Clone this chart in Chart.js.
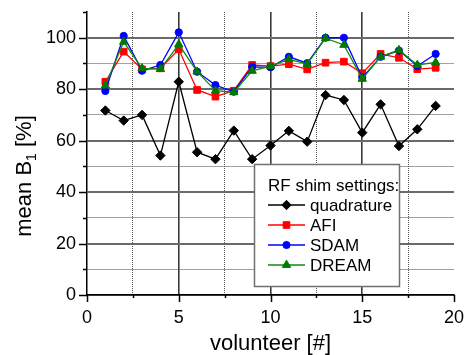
<!DOCTYPE html>
<html>
<head>
<meta charset="utf-8">
<script src="https://cdn.jsdelivr.net/npm/chart.js@4.4.0/dist/chart.umd.min.js"></script>
<style>
  html, body { margin: 0; padding: 0; background: #fff; overflow: hidden; }
  #wrap { position: relative; width: 465px; height: 357px; }
</style>
</head>
<body>
<div id="wrap"><canvas id="chart"></canvas></div>
<script>
// --- data ---
const volunteers = [1, 2, 3, 4, 5, 6, 7, 8, 9, 10, 11, 12, 13, 14, 15, 16, 17, 18, 19];
const quadrature = [71.7, 67.8, 70.0, 54.2, 82.9, 55.5, 52.8, 63.9, 52.8, 58.1, 63.8, 59.6, 77.7, 75.8, 63.1, 74.1, 57.9, 64.4, 73.5];
const afi        = [82.9, 94.6, 87.7, 88.1, 95.5, 79.7, 77.1, 79.4, 89.4, 89.0, 89.7, 87.7, 90.3, 90.7, 86.2, 93.7, 92.2, 87.8, 88.3];
const sdam       = [79.3, 100.7, 87.2, 89.4, 102.1, 86.8, 81.6, 79.0, 88.7, 88.5, 92.6, 90.1, 100.0, 100.0, 84.5, 92.6, 95.0, 89.0, 93.7];
const dream      = [81.4, 98.4, 88.1, 87.8, 97.4, 86.8, 79.4, 78.8, 87.1, 89.0, 91.6, 89.8, 99.8, 97.2, 84.0, 92.6, 95.2, 89.4, 90.4];
const seriesNames = ["quadrature", "AFI", "SDAM", "DREAM"];
const legendTitle = "RF shim settings:";
const xTitle = "volunteer [#]";
const yTitle = ["mean B", "1", " [%]"];

const FONT = '"Liberation Sans", Arial, Helvetica, sans-serif';

function toPoints(vals) {
    return volunteers.map((v, i) => ({ x: v, y: vals[i] }));
}

function makeSeries(label, vals, color, markColor, style, radius, order) {
    return {
        label: label,
        data: toPoints(vals),
        borderColor: color,
        borderWidth: 1.3,
        pointStyle: style,
        pointRadius: radius,
        pointBackgroundColor: markColor,
        pointBorderColor: markColor,
        pointBorderWidth: 1,
        tension: 0,
        fill: false,
        order: order
    };
}

// --- outward tick marks (long for labelled ticks, short for the rest) ---
const tickMarks = {
    id: "tickMarks",
    afterDraw(chart) {
        const { ctx, scales: { x, y } } = chart;
        ctx.save();
        ctx.strokeStyle = "#000";
        ctx.lineWidth = 1.5;
        ctx.beginPath();
        y.ticks.forEach(t => {
            const py = Math.round(y.getPixelForValue(t.value)) + 0.5;
            const len = t.value % 20 === 0 ? 8 : 4;
            ctx.moveTo(y.right - len, py);
            ctx.lineTo(y.right, py);
        });
        x.ticks.forEach(t => {
            const px = Math.round(x.getPixelForValue(t.value)) + 0.5;
            const len = t.value % 5 === 0 ? 7 : 3;
            ctx.moveTo(px, x.top);
            ctx.lineTo(px, x.top + len);
        });
        ctx.stroke();
        ctx.restore();
    }
};

// --- rotated y title with subscript ---
const yAxisTitle = {
    id: "yAxisTitle",
    afterDraw(chart) {
        const ctx = chart.ctx;
        const big = "22px " + FONT;
        const small = "14px " + FONT;
        ctx.save();
        ctx.translate(31, 176);
        ctx.rotate(-Math.PI / 2);
        ctx.fillStyle = "#000";
        ctx.textBaseline = "alphabetic";
        ctx.font = big;
        const wa = ctx.measureText(yTitle[0]).width;
        const wc = ctx.measureText(yTitle[2]).width;
        ctx.font = small;
        const wb = ctx.measureText(yTitle[1]).width;
        let px = -(wa + wb + wc) / 2;
        ctx.font = big;
        ctx.fillText(yTitle[0], px, 0);
        px += wa;
        ctx.font = small;
        ctx.fillText(yTitle[1], px, 5);
        px += wb;
        ctx.font = big;
        ctx.fillText(yTitle[2], px, 0);
        ctx.restore();
    }
};

// --- legend box inside the plot ---
const shimLegend = {
    id: "shimLegend",
    afterDatasetsDraw(chart) {
        const ctx = chart.ctx;
        const bx = 254.5, by = 164.5, bw = 145, bh = 122;
        ctx.save();
        ctx.fillStyle = "#fff";
        ctx.fillRect(bx, by, bw, bh);
        ctx.strokeStyle = "#707070";
        ctx.lineWidth = 1.5;
        ctx.strokeRect(bx, by, bw, bh);
        ctx.font = "17px " + FONT;
        ctx.fillStyle = "#000";
        ctx.textBaseline = "alphabetic";
        ctx.fillText(legendTitle, 268, 191);
        chart.data.datasets.forEach((ds, i) => {
            const cy = 205 + i * 20;
            ctx.strokeStyle = ds.borderColor;
            ctx.lineWidth = ds.borderWidth;
            ctx.beginPath();
            ctx.moveTo(268, cy);
            ctx.lineTo(305, cy);
            ctx.stroke();
            ctx.fillStyle = ds.pointBackgroundColor;
            ctx.strokeStyle = ds.pointBorderColor;
            ctx.lineWidth = 1;
            Chart.helpers.drawPoint(ctx, {
                pointStyle: ds.pointStyle, radius: ds.pointRadius, rotation: 0, borderWidth: 1
            }, 286.5, cy);
            ctx.fillStyle = "#000";
            ctx.fillText(ds.label, 310, cy + 6);
        });
        ctx.restore();
    }
};

const ctx = document.getElementById("chart").getContext("2d");
new Chart(ctx, {
    type: "line",
    data: {
        datasets: [
            makeSeries(seriesNames[0], quadrature, "#000000", "#000000", "rectRot", 4.7, 4),
            makeSeries(seriesNames[1], afi, "#ff0000", "#ff0000", "rect", 4.7, 3),
            makeSeries(seriesNames[2], sdam, "#0000ff", "#0000ff", "circle", 3.6, 2),
            makeSeries(seriesNames[3], dream, "#108a10", "#007a00", "triangle", 4.8, 1)
        ]
    },
    options: {
        responsive: true,
        maintainAspectRatio: false,
        animation: false,
        layout: { padding: { top: 12, right: 11, left: 0, bottom: 0 } },
        plugins: {
            legend: { display: false },
            tooltip: { enabled: false }
        },
        scales: {
            x: {
                type: "linear",
                min: 0,
                max: 20,
                afterFit: s => { s.height = 62; s.paddingLeft = 0; s.paddingRight = 0; },
                ticks: {
                    stepSize: 2.5,
                    autoSkip: false,
                    maxRotation: 0,
                    padding: 12,
                    color: "#000",
                    font: { family: FONT, size: 18 },
                    callback: v => (v % 5 === 0 ? String(v) : "")
                },
                grid: {
                    drawTicks: false,
                    color: c => {
                        const v = c.tick ? c.tick.value : null;
                        if (v === 0 || v === 20) return "rgba(0,0,0,0)";
                        return v % 5 === 0 ? "#3a3a3a" : "#555555";
                    },
                    lineWidth: c => (c.tick && c.tick.value % 5 === 0 ? 1.6 : 1)
                },
                border: {
                    display: true,
                    color: "#000",
                    width: 1.5,
                    dash: c => (c.tick && c.tick.value % 5 !== 0 ? [1, 1] : [])
                },
                title: {
                    display: true,
                    text: xTitle,
                    color: "#000",
                    font: { family: FONT, size: 22 },
                    padding: { top: 0, bottom: 0 }
                }
            },
            y: {
                min: 0,
                max: 110,
                afterFit: s => { s.width = 87; s.paddingTop = 0; s.paddingBottom = 0; },
                ticks: {
                    stepSize: 10,
                    padding: 11,
                    color: "#000",
                    font: { family: FONT, size: 18 },
                    callback: v => (v % 20 === 0 && v <= 100 ? String(v) : "")
                },
                grid: {
                    drawTicks: false,
                    color: c => {
                        const v = c.tick ? c.tick.value : null;
                        if (v === 110) return "rgba(0,0,0,0)";
                        return v % 20 === 0 ? "#6a6a6a" : "#444444";
                    },
                    lineWidth: c => (c.tick && c.tick.value % 20 === 0 ? 2 : 1)
                },
                border: {
                    display: true,
                    color: "#000",
                    width: 1.5,
                    dash: c => (c.tick && c.tick.value % 20 !== 0 ? [1, 1] : [])
                }
            }
        }
    },
    plugins: [tickMarks, yAxisTitle, shimLegend]
});
</script>
</body>
</html>
